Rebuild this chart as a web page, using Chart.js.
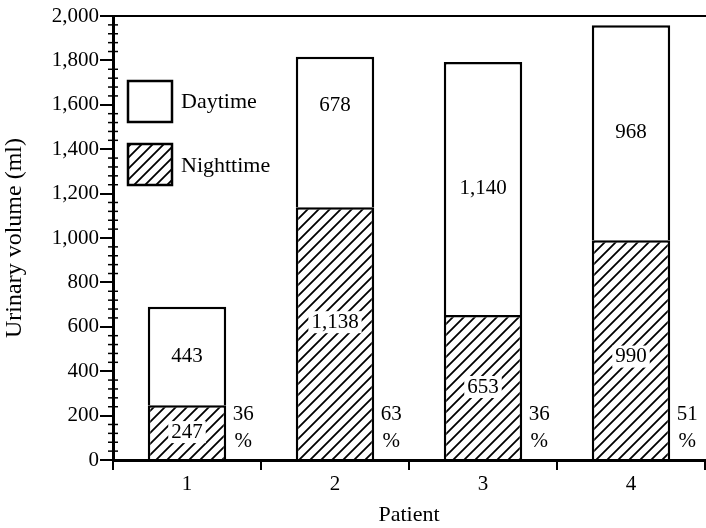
<!DOCTYPE html>
<html>
<head>
<meta charset="utf-8">
<script src="https://cdn.jsdelivr.net/npm/chart.js@4.4.1/dist/chart.umd.min.js"></script>
<style>
    html, body { margin: 0; padding: 0; background: #fff; }
    #wrap { width: 706px; height: 528px; }
</style>
</head>
<body>
<div id="wrap"><canvas id="urineChart" width="706" height="528"></canvas></div>
<script>
// ---- data ----
const patients = ['1', '2', '3', '4'];
const nighttime = [247, 1138, 653, 990];
const daytime = [443, 678, 1140, 968];
const nightPercent = [36, 63, 36, 51];
const yTicks = [0, 200, 400, 600, 800, 1000, 1200, 1400, 1600, 1800, 2000];

const SERIF = "'Liberation Serif', 'DejaVu Serif', serif";

// small vertical nudges (px) for the in-bar numbers, as placed in the original
const dayNudge = [0, -27, 0, 0];
const nightNudge = [0, -11, 0, 7];

// diagonal hatch for the nighttime bars
function makeHatch(size, width) {
    const c = document.createElement('canvas');
    c.width = size; c.height = size;
    const g = c.getContext('2d');
    g.fillStyle = '#fff';
    g.fillRect(0, 0, size, size);
    g.strokeStyle = '#000';
    g.lineWidth = width;
    g.beginPath();
    g.moveTo(0, size); g.lineTo(size, 0);
    g.moveTo(-size / 2, size / 2); g.lineTo(size / 2, -size / 2);
    g.moveTo(size / 2, size * 1.5); g.lineTo(size * 1.5, size / 2);
    g.stroke();
    return g.createPattern(c, 'repeat');
}
const hatch = makeHatch(11, 1.8);

// frame line on top, minor ticks, legend, value labels
const decorations = {
    id: 'decorations',
    afterDraw(chart) {
        const ctx = chart.ctx;
        const area = chart.chartArea;
        const y = chart.scales.y;
        ctx.save();
        ctx.strokeStyle = '#000';

        // top frame
        ctx.lineWidth = 2;
        ctx.beginPath();
        ctx.moveTo(area.left, area.top);
        ctx.lineTo(chart.width, area.top);
        ctx.stroke();

        // minor ticks every 40 ml
        ctx.lineWidth = 1.5;
        for (let v = 40; v < 2000; v += 40) {
            if (v % 200 === 0) continue;
            const py = y.getPixelForValue(v);
            ctx.beginPath();
            ctx.moveTo(area.left - 5, py);
            ctx.lineTo(area.left + 5, py);
            ctx.stroke();
        }

        // legend
        ctx.lineWidth = 2.5;
        ctx.fillStyle = '#fff';
        ctx.fillRect(128, 81, 44, 41);
        ctx.strokeRect(128, 81, 44, 41);
        ctx.fillStyle = hatch;
        ctx.fillRect(128, 144, 44, 41);
        ctx.strokeRect(128, 144, 44, 41);
        ctx.fillStyle = '#000';
        ctx.font = '22px ' + SERIF;
        ctx.textAlign = 'left';
        ctx.textBaseline = 'middle';
        ctx.fillText('Daytime', 181, 102);
        ctx.fillText('Nighttime', 181, 166);

        // numbers inside bars
        ctx.font = '21px ' + SERIF;
        ctx.textAlign = 'center';
        const nightMeta = chart.getDatasetMeta(0);
        const dayMeta = chart.getDatasetMeta(1);
        nightMeta.data.forEach((bar, i) => {
            const cy = (bar.y + bar.base) / 2 + nightNudge[i];
            const txt = nighttime[i].toLocaleString('en-US');
            const w = ctx.measureText(txt).width;
            ctx.fillStyle = '#fff';
            ctx.fillRect(bar.x - w / 2 - 3, cy - 11, w + 6, 22);
            ctx.fillStyle = '#000';
            ctx.fillText(txt, bar.x, cy);

            // percent beside the bar
            const px = bar.x + bar.width / 2 + 17;
            ctx.fillText(String(nightPercent[i]), px, bar.base - 45);
            ctx.fillText('%', px, bar.base - 18);
        });
        dayMeta.data.forEach((bar, i) => {
            const cy = (bar.y + bar.base) / 2 + dayNudge[i];
            ctx.fillText(daytime[i].toLocaleString('en-US'), bar.x, cy);
        });
        ctx.restore();
    }
};

new Chart(document.getElementById('urineChart'), {
    type: 'bar',
    data: {
        labels: patients,
        datasets: [
            {
                label: 'Nighttime',
                data: nighttime,
                backgroundColor: hatch,
                borderColor: '#000',
                borderWidth: 2.5,
                borderSkipped: 'start'
            },
            {
                label: 'Daytime',
                data: daytime,
                backgroundColor: '#fff',
                borderColor: '#000',
                borderWidth: 2.5,
                borderSkipped: 'start'
            }
        ]
    },
    options: {
        responsive: false,
        animation: false,
        layout: { padding: { top: 16, right: 1, left: 0, bottom: 0 } },
        plugins: {
            legend: { display: false },
            tooltip: { enabled: false }
        },
        datasets: {
            bar: { categoryPercentage: 1, barPercentage: 0.53 }
        },
        scales: {
            x: {
                stacked: true,
                offset: true,
                grid: {
                    offset: true,
                    drawOnChartArea: false,
                    drawTicks: true,
                    tickLength: 10,
                    color: '#000',
                    lineWidth: 2
                },
                border: { display: true, color: '#000', width: 3 },
                ticks: {
                    color: '#000',
                    font: { family: SERIF, size: 21 },
                    padding: 2
                },
                title: {
                    display: true,
                    text: 'Patient',
                    color: '#000',
                    font: { family: SERIF, size: 22 },
                    padding: { top: 2, bottom: 0 }
                },
                afterFit: s => { s.height = 68; }
            },
            y: {
                stacked: true,
                min: 0,
                max: 2000,
                afterBuildTicks: s => { s.ticks = yTicks.map(v => ({ value: v })); },
                grid: {
                    drawOnChartArea: false,
                    drawTicks: true,
                    tickLength: 13,
                    color: '#000',
                    lineWidth: 2
                },
                border: { display: true, color: '#000', width: 3 },
                ticks: {
                    color: '#000',
                    font: { family: SERIF, size: 21 },
                    padding: 1,
                    callback: v => Number(v).toLocaleString('en-US')
                },
                title: {
                    display: true,
                    text: 'Urinary volume (ml)',
                    color: '#000',
                    font: { family: SERIF, size: 24 },
                    padding: { top: 0, bottom: 2 }
                },
                afterFit: s => { s.width = 113; }
            }
        }
    },
    plugins: [decorations]
});
</script>
</body>
</html>
